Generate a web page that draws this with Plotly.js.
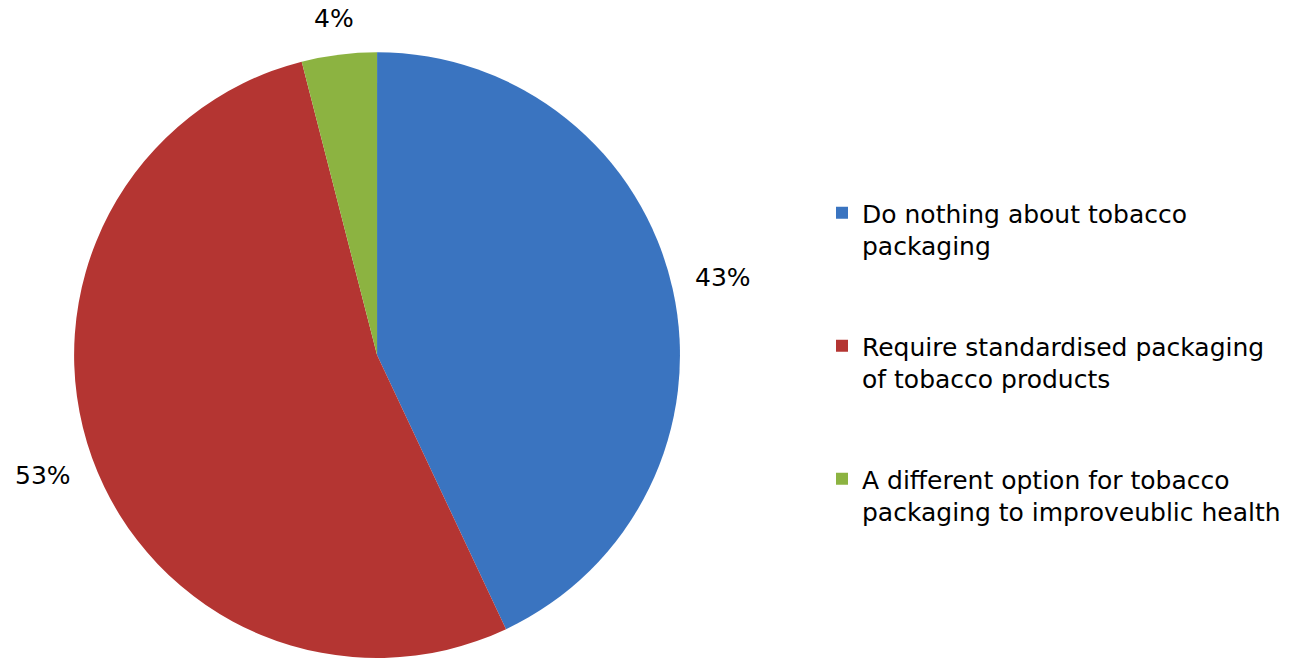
<!DOCTYPE html>
<html>
<head>
<meta charset="utf-8">
<script src="https://cdn.plot.ly/plotly-3.0.1.min.js"></script>
<style>html,body{margin:0;padding:0;background:#fff;}#chart{width:1306px;height:660px;}</style>
</head>
<body>
<div id="chart"></div>
<script>
const categories = [
  "Do nothing about tobacco<br>packaging",
  "Require standardised packaging<br>of tobacco products",
  "A different option for tobacco<br>packaging to improveublic health"
];
const shares = [43, 53, 4];
const sliceColors = ["#3a74c0", "#b43532", "#8cb341"];

const W = 1306, H = 660;
const FONT = "DejaVu Sans, Verdana, sans-serif";
const FS = 25;
const pieDomain = { x: [0.0567, 0.5207], y: [0.003, 0.921] };

const legendLabels = categories.map(c => c + "<br> <br> ");

const trace = {
  type: "pie",
  labels: legendLabels,
  values: shares,
  sort: false,
  direction: "clockwise",
  rotation: 0,
  marker: { colors: sliceColors, line: { width: 0 } },
  textinfo: "none",
  domain: pieDomain,
  hoverinfo: "label+percent"
};

// percentage labels placed outside each slice, from the data
const total = shares.reduce((a, b) => a + b, 0);
const cx = (pieDomain.x[0] + pieDomain.x[1]) / 2 * W;
const cy = (1 - (pieDomain.y[0] + pieDomain.y[1]) / 2) * H;
const R = Math.min((pieDomain.x[1] - pieDomain.x[0]) * W, (pieDomain.y[1] - pieDomain.y[0]) * H) / 2;
const gap = 22;
let cum = 0;
const annotations = shares.map(v => {
  const mid = (cum + v / 2) / total * 2 * Math.PI;
  cum += v;
  const dx = Math.sin(mid), dy = -Math.cos(mid);
  const txt = Math.round(v / total * 100) + "%";
  const hw = txt.length * 0.37 * FS, hh = 0.5 * FS;
  const ext = Math.abs(dx) * hw + Math.abs(dy) * hh;
  const r = R + gap + ext;
  const px = cx + dx * r, py = cy + dy * r;
  return {
    xref: "paper", yref: "paper",
    x: px / W, y: 1 - py / H,
    xanchor: "center", yanchor: "middle",
    text: txt, showarrow: false,
    font: { family: FONT, size: FS, color: "#000" }
  };
});

const layout = {
  width: W,
  height: H,
  margin: { l: 0, r: 0, t: 0, b: 0 },
  paper_bgcolor: "#fff",
  font: { family: FONT, color: "#000", size: FS },
  showlegend: true,
  annotations: annotations,
  legend: {
    x: 0.6294, xanchor: "left",
    y: 1 - 190/660, yanchor: "top",
    valign: "top",
    font: { size: FS, color: "#000", family: FONT },
    bgcolor: "rgba(0,0,0,0)"
  }
};

Plotly.newPlot("chart", [trace], layout, { displayModeBar: false, staticPlot: true });
</script>
</body>
</html>
